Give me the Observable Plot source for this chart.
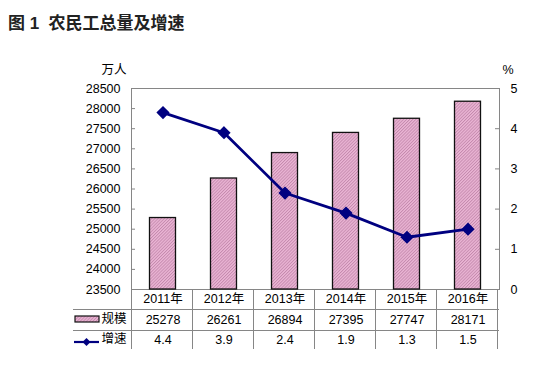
<!DOCTYPE html>
<html><head><meta charset="utf-8">
<script src="https://cdn.jsdelivr.net/npm/d3@7"></script>
<script src="https://cdn.jsdelivr.net/npm/@observablehq/plot@0.6"></script>
<style>
body{margin:0;background:#fff;font-family:"Liberation Sans","Noto Sans CJK SC",sans-serif;}
#title{height:40px;line-height:48px;padding-left:8px;font-size:17px;font-weight:bold;color:#222;white-space:pre;font-family:"Liberation Sans","Noto Sans CJK SC",sans-serif;}
</style></head>
<body>
<div id="title">图 1  农民工总量及增速</div>
<div id="chart"></div>
<script>
const years = ["2011年","2012年","2013年","2014年","2015年","2016年"];
const scaleVals = [25278,26261,26894,27395,27747,28171];
const growth = [4.4,3.9,2.4,1.9,1.3,1.5];
const leftTicks = [23500,24000,24500,25000,25500,26000,26500,27000,27500,28000,28500];
const rightTicks = [0,1,2,3,4,5];
const rowLabels = ["规模","增速"];

const yMin = 23500, yMax = 28500, pctMax = 5;
const pctToY = p => yMin + p * (yMax - yMin) / pctMax;
const data = years.map((y,i)=>({year:y, scale:scaleVals[i], growth:growth[i]}));
const font = '"Liberation Sans","Noto Sans CJK SC",sans-serif';
const navy = "#000080";

const chart = Plot.plot({
  width: 560, height: 332,
  marginTop: 48, marginBottom: 83, marginLeft: 131, marginRight: 61,
  x: {type: "band", domain: years, padding: 0, axis: null},
  y: {domain: [yMin, yMax], axis: null},
  style: {fontFamily: font, fontSize: "12.5px", color: "#000", background: "#fff"},
  marks: [
    Plot.frame({stroke: "#868686"}),
    Plot.barY(data, {x: "year", y1: () => yMin, y2: "scale", insetLeft: 17.5, insetRight: 17.5,
      fill: "url(#hatch)", stroke: "#111", strokeWidth: 1.3}),
    Plot.ruleY(leftTicks, {insetRight: 364, stroke: "#868686"}),
    Plot.ruleY(rightTicks.map(pctToY), {insetLeft: 364, stroke: "#868686"}),
    Plot.axisY(leftTicks, {anchor: "left", label: null, tickSize: 0, tickPadding: 11, tickFormat: d => String(d)}),
    Plot.axisY(rightTicks.map(pctToY), {anchor: "right", label: null, tickSize: 0, tickPadding: 11,
      tickFormat: d => String(Math.round((d - yMin) * pctMax / (yMax - yMin)))}),
    Plot.line(data, {x: "year", y: d => pctToY(d.growth), stroke: navy, strokeWidth: 2.8}),
    Plot.dot(data, {x: "year", y: d => pctToY(d.growth), symbol: "diamond2", r: 5, fill: navy, stroke: navy}),
    Plot.text(data, {x: "year", text: "year", frameAnchor: "bottom", dy: 13, fontSize: 12.5}),
    Plot.text(data, {x: "year", text: d => String(d.scale), frameAnchor: "bottom", dy: 34, fontSize: 12.5}),
    Plot.text(data, {x: "year", text: d => d.growth.toFixed(1), frameAnchor: "bottom", dy: 54.5, fontSize: 12.5}),
    Plot.text([rowLabels[0]], {text: d => d, frameAnchor: "bottom-left", dx: -30, dy: 33, textAnchor: "start", fontSize: 12.5}),
    Plot.text([rowLabels[1]], {text: d => d, frameAnchor: "bottom-left", dx: -30, dy: 53.5, textAnchor: "start", fontSize: 12.5}),
    Plot.text(["万人"], {text: d => d, frameAnchor: "top-left", dx: -30, dy: -23, fontSize: 12.5}),
    Plot.text(["%"], {text: d => d, frameAnchor: "top-right", dx: 14, dy: -23, fontSize: 12.5})
  ]
});

// hatch pattern
const svg = d3.select(chart);
const defs = svg.insert("defs", ":first-child");
const pat = defs.append("pattern").attr("id", "hatch").attr("patternUnits", "userSpaceOnUse")
  .attr("width", 2.2).attr("height", 2.2).attr("patternTransform", "rotate(45)");
pat.append("rect").attr("width", 2.2).attr("height", 2.2).attr("fill", "#ebb6d5");
pat.append("rect").attr("width", 0.9).attr("height", 2.2).attr("fill", "#c489ad");

// table grid using the plot's scales
const xs = chart.scale("x");
const [x0, x1] = xs.range;
const step = xs.step;
const yTop = 289 - 40, yRow1 = 309 - 40, yRow2 = 330 - 40, yBot = 349 - 40;
const g = svg.append("g").attr("stroke", "#868686").attr("stroke-width", 1);
for (let i = 0; i <= years.length; i++) {
  const x = Math.round(x0 + i * step) + 0.5;
  g.append("line").attr("x1", x).attr("x2", x).attr("y1", yTop).attr("y2", yBot);
}
g.append("line").attr("x1", 73).attr("x2", x1).attr("y1", yRow1 + 0.5).attr("y2", yRow1 + 0.5);
g.append("line").attr("x1", 73).attr("x2", x1).attr("y1", yRow2 + 0.5).attr("y2", yRow2 + 0.5);

// legend keys in the table
svg.append("rect").attr("x", 75).attr("y", 316 - 40).attr("width", 24).attr("height", 6)
  .attr("fill", "url(#hatch)").attr("stroke", "#111").attr("stroke-width", 1.2);
svg.append("line").attr("x1", 74).attr("x2", 99).attr("y1", 342 - 40).attr("y2", 342 - 40)
  .attr("stroke", navy).attr("stroke-width", 2.2);
svg.append("path").attr("d", d3.symbol(d3.symbolDiamond2, 40)()).attr("transform", `translate(86.5,${342 - 40})`)
  .attr("fill", navy);

document.getElementById("chart").appendChild(chart);
</script>
</body></html>
